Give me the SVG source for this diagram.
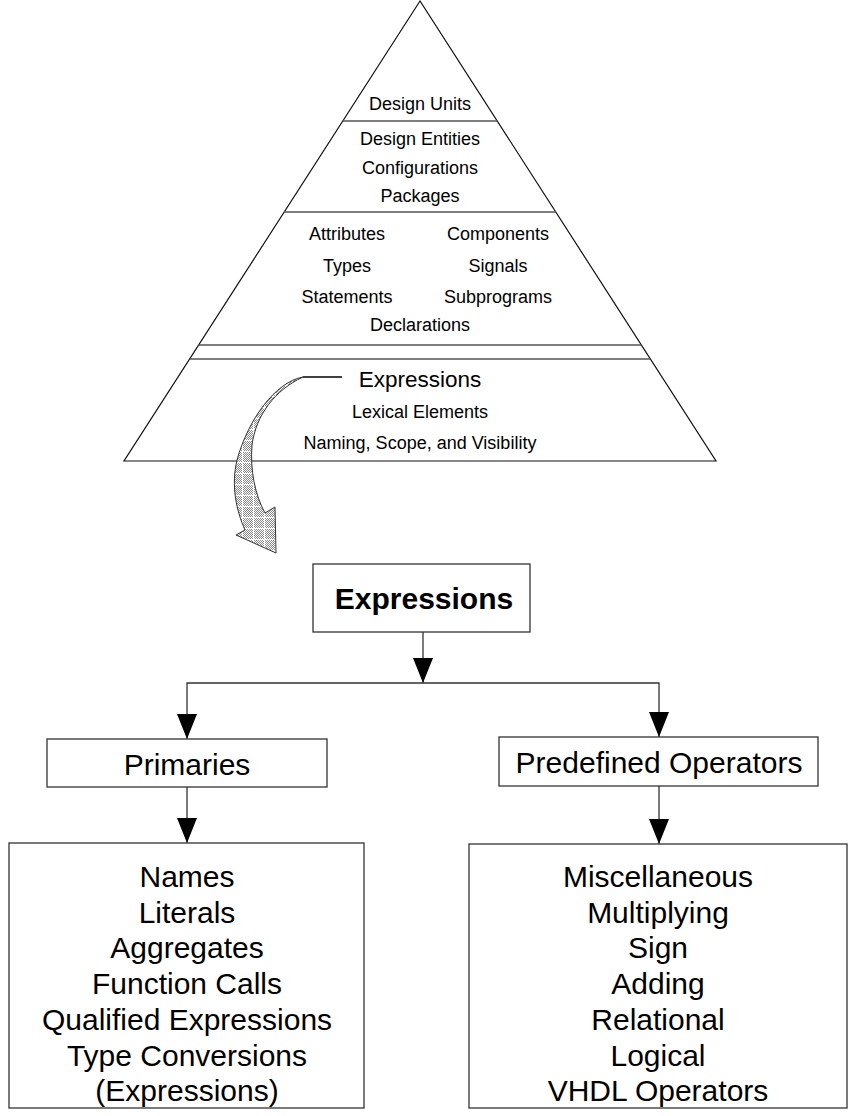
<svg xmlns="http://www.w3.org/2000/svg" width="852" height="1116" viewBox="0 0 852 1116">
  <style>
    .t { font-family: "Liberation Sans", Arial, sans-serif; fill: #000; text-anchor: middle; }
    .s { font-size: 18px; }
    .m { font-size: 22.5px; }
    .l { font-size: 30px; }
    .b { font-size: 30px; font-weight: bold; }
    .box { fill: #fff; stroke: #333; stroke-width: 1.3; }
    .div { stroke: #555; stroke-width: 1.5; fill: none; }
    .wire { stroke: #333; stroke-width: 1.3; fill: none; }
  </style>
  <defs>
    <marker id="head" markerUnits="userSpaceOnUse" markerWidth="25" markerHeight="20" refX="25" refY="10" orient="auto">
      <path d="M0,0 L25,10 L0,20 Z" fill="#000"/>
    </marker>
    <!-- stippled grey fill with a faint white grid -->
    <pattern id="stipple" patternUnits="userSpaceOnUse" width="2" height="2">
      <rect width="2" height="2" fill="#fff"/>
      <rect width="1" height="1" fill="#888"/>
      <rect x="1" y="1" width="1" height="1" fill="#888"/>
    </pattern>
    <pattern id="grid" patternUnits="userSpaceOnUse" width="11" height="11">
      <rect width="11" height="11" fill="url(#stipple)"/>
      <path d="M0,0.5 H11 M0.5,0 V11" stroke="#fff" stroke-width="1"/>
    </pattern>
  </defs>

  <!-- layered pyramid -->
  <g id="pyramid">
    <polygon points="420,1 124,461 716,461" fill="#fff" stroke="#111" stroke-width="1.2"/>
    <line class="div" x1="342.8" y1="121" x2="497.2" y2="121"/>
    <line class="div" x1="284.2" y1="212" x2="555.8" y2="212"/>
    <line class="div" x1="198.6" y1="345" x2="641.4" y2="345"/>
    <line class="div" x1="189.6" y1="359" x2="650.4" y2="359"/>
    <text class="t s" x="420" y="110">Design Units</text>
    <text class="t s" x="420" y="145">Design Entities</text>
    <text class="t s" x="420" y="174">Configurations</text>
    <text class="t s" x="420" y="202">Packages</text>
    <text class="t s" x="347" y="240">Attributes</text>
    <text class="t s" x="498" y="240">Components</text>
    <text class="t s" x="347" y="272">Types</text>
    <text class="t s" x="498" y="272">Signals</text>
    <text class="t s" x="347" y="303">Statements</text>
    <text class="t s" x="498" y="303">Subprograms</text>
    <text class="t s" x="420" y="331">Declarations</text>
    <text class="t m" x="420" y="387">Expressions</text>
    <text class="t s" x="420" y="418">Lexical Elements</text>
    <text class="t s" x="420" y="449">Naming, Scope, and Visibility</text>
  </g>

  <!-- curved callout arrow from the Expressions layer -->
  <g id="callout">
    <line x1="303" y1="377" x2="342" y2="377" stroke="#000" stroke-width="1.6"/>
    <path d="M303,377 C275,382 248,420 237,460 C231,485 236,510 245,530 L236,535 L276,553 L275,507 L265,513 C255,495 250,470 252,445 C256,415 275,390 303,377 Z" fill="url(#grid)" stroke="#333" stroke-width="1"/>
  </g>

  <g id="connectors">
    <path class="wire" d="M423,632 V683" marker-end="url(#head)"/>
    <path class="wire" d="M423,683 H187 V739" marker-end="url(#head)"/>
    <path class="wire" d="M423,683 H659 V737" marker-end="url(#head)"/>
    <path class="wire" d="M187,787 V843" marker-end="url(#head)"/>
    <path class="wire" d="M659,786 V844" marker-end="url(#head)"/>
  </g>

  <g id="expressions">
    <rect class="box" x="313" y="564" width="217" height="68"/>
    <text class="t b" x="424" y="609">Expressions</text>
  </g>

  <g id="primaries">
    <rect class="box" x="47" y="739" width="280" height="48"/>
    <text class="t l" x="187" y="775">Primaries</text>
  </g>

  <g id="operators">
    <rect class="box" x="499" y="737" width="319" height="49"/>
    <text class="t l" x="659" y="773">Predefined Operators</text>
  </g>

  <g id="primary-kinds">
    <rect class="box" x="9" y="843" width="355" height="265"/>
    <text class="t l" x="187" y="887">Names</text>
    <text class="t l" x="187" y="922.7">Literals</text>
    <text class="t l" x="187" y="958.4">Aggregates</text>
    <text class="t l" x="187" y="994.1">Function Calls</text>
    <text class="t l" x="187" y="1029.8">Qualified Expressions</text>
    <text class="t l" x="187" y="1065.5">Type Conversions</text>
    <text class="t l" x="187" y="1101.2">(Expressions)</text>
  </g>

  <g id="operator-kinds">
    <rect class="box" x="469" y="844" width="378" height="264"/>
    <text class="t l" x="658" y="887">Miscellaneous</text>
    <text class="t l" x="658" y="922.7">Multiplying</text>
    <text class="t l" x="658" y="958.4">Sign</text>
    <text class="t l" x="658" y="994.1">Adding</text>
    <text class="t l" x="658" y="1029.8">Relational</text>
    <text class="t l" x="658" y="1065.5">Logical</text>
    <text class="t l" x="658" y="1101.2">VHDL Operators</text>
  </g>
</svg>
